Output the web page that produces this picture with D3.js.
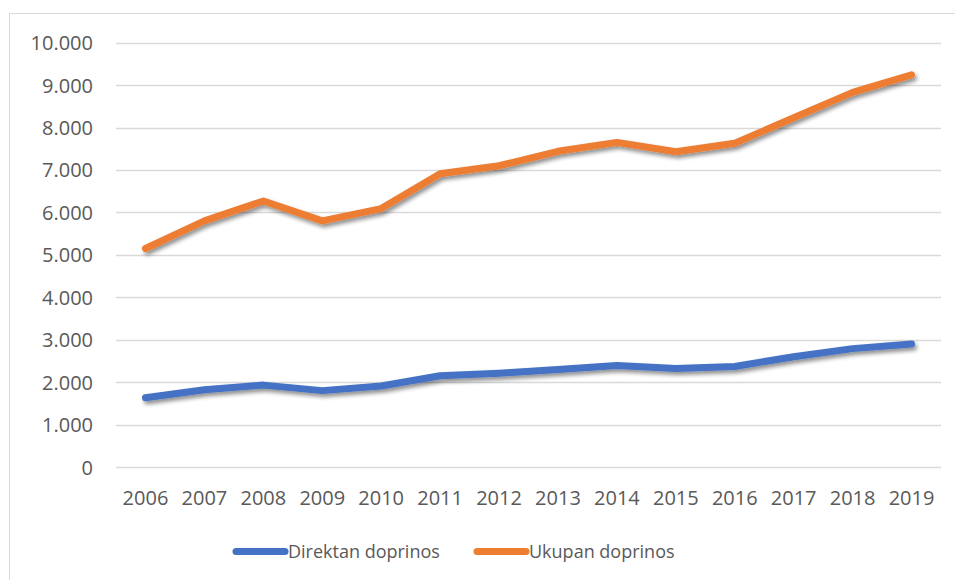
<!DOCTYPE html>
<html lang="hr">
<head>
<meta charset="utf-8">
<title>Direktan i ukupan doprinos</title>
<script src="https://d3js.org/d3.v7.min.js"></script>
<style>
  body { margin: 0; background: #fff; }
  svg text { font-family: "Open Sans", "Liberation Sans", sans-serif; fill: #595959; }
</style>
</head>
<body>
<div id="chart"></div>
<script>
// data
var years = ["2006","2007","2008","2009","2010","2011","2012","2013","2014","2015","2016","2017","2018","2019"];
var direktan = [1630, 1820, 1930, 1800, 1910, 2150, 2210, 2300, 2390, 2320, 2370, 2600, 2790, 2900];
var ukupan   = [5150, 5800, 6270, 5800, 6090, 6910, 7100, 7440, 7650, 7430, 7630, 8230, 8830, 9240];
var yTicks = [0, 1000, 2000, 3000, 4000, 5000, 6000, 7000, 8000, 9000, 10000];
var seriesNames = ["Direktan doprinos", "Ukupan doprinos"];
var seriesColors = ["#4472C4", "#ED7D31"];

var W = 955, H = 580;
var svg = d3.select("#chart").append("svg").attr("width", W).attr("height", H);

// chart border
svg.append("rect").attr("x", 9.5).attr("y", 13.5).attr("width", W + 10).attr("height", H + 10)
  .attr("fill", "none").attr("stroke", "#d9d9d9").attr("stroke-width", 1);

var defs = svg.append("defs");
var f = defs.append("filter").attr("id", "shadow").attr("x", "-10%").attr("y", "-50%").attr("width", "120%").attr("height", "200%");
f.append("feGaussianBlur").attr("in", "SourceAlpha").attr("stdDeviation", 2.2);
f.append("feOffset").attr("dx", 2).attr("dy", 3).attr("result", "b");
f.append("feComponentTransfer").append("feFuncA").attr("type", "linear").attr("slope", 0.45);
var m = f.append("feMerge");
m.append("feMergeNode");
m.append("feMergeNode").attr("in", "SourceGraphic");

var plotL = 116, plotR = 941, plotT = 42.7, plotB = 467;
var x = d3.scaleBand().domain(years).range([plotL, plotR]);
var y = d3.scaleLinear().domain([0, 10000]).range([plotB, plotT]);
var fmt = function(d) { return d3.format(",")(d).replace(/,/g, "."); };

// grid
svg.append("g").selectAll("line").data(yTicks).join("line")
  .attr("x1", plotL).attr("x2", plotR)
  .attr("y1", function(d) { return Math.round(y(d)) + 0.5; })
  .attr("y2", function(d) { return Math.round(y(d)) + 0.5; })
  .attr("stroke", "#d9d9d9").attr("stroke-width", 1.3);

// y axis labels
var yAxis = d3.axisLeft(y).tickValues(yTicks).tickFormat(fmt).tickSize(0).tickPadding(0);
var ya = svg.append("g").attr("transform", "translate(93,0)").call(yAxis);
ya.select(".domain").remove();
ya.selectAll("text").style("font-size", "20px").attr("fill", "#595959").attr("dy", "0.35em");

// x axis labels
var xAxis = d3.axisBottom(x).tickSize(0).tickPadding(0);
var xa = svg.append("g").attr("transform", "translate(0,491)").call(xAxis);
xa.select(".domain").remove();
xa.selectAll("text").style("font-size", "20px").attr("fill", "#595959");

// lines
var line = d3.line()
  .x(function(d, i) { return x(years[i]) + x.bandwidth() / 2; })
  .y(function(d) { return y(d); });

[direktan, ukupan].forEach(function(s, i) {
  svg.append("path").datum(s)
    .attr("d", line)
    .attr("fill", "none")
    .attr("stroke", seriesColors[i])
    .attr("stroke-width", 7)
    .attr("stroke-linejoin", "round")
    .attr("stroke-linecap", "round")
    .attr("filter", "url(#shadow)");
});

// legend
var legendX = [236, 477];
var lg = svg.append("g");
seriesNames.forEach(function(n, i) {
  lg.append("line")
    .attr("x1", legendX[i]).attr("x2", legendX[i] + 49)
    .attr("y1", 551.5).attr("y2", 551.5)
    .attr("stroke", seriesColors[i]).attr("stroke-width", 7).attr("stroke-linecap", "round");
  lg.append("text")
    .attr("x", legendX[i] + 52).attr("y", 551.5).attr("dy", "0.35em")
    .style("font-size", "18px")
    .text(n);
});
</script>
</body>
</html>
